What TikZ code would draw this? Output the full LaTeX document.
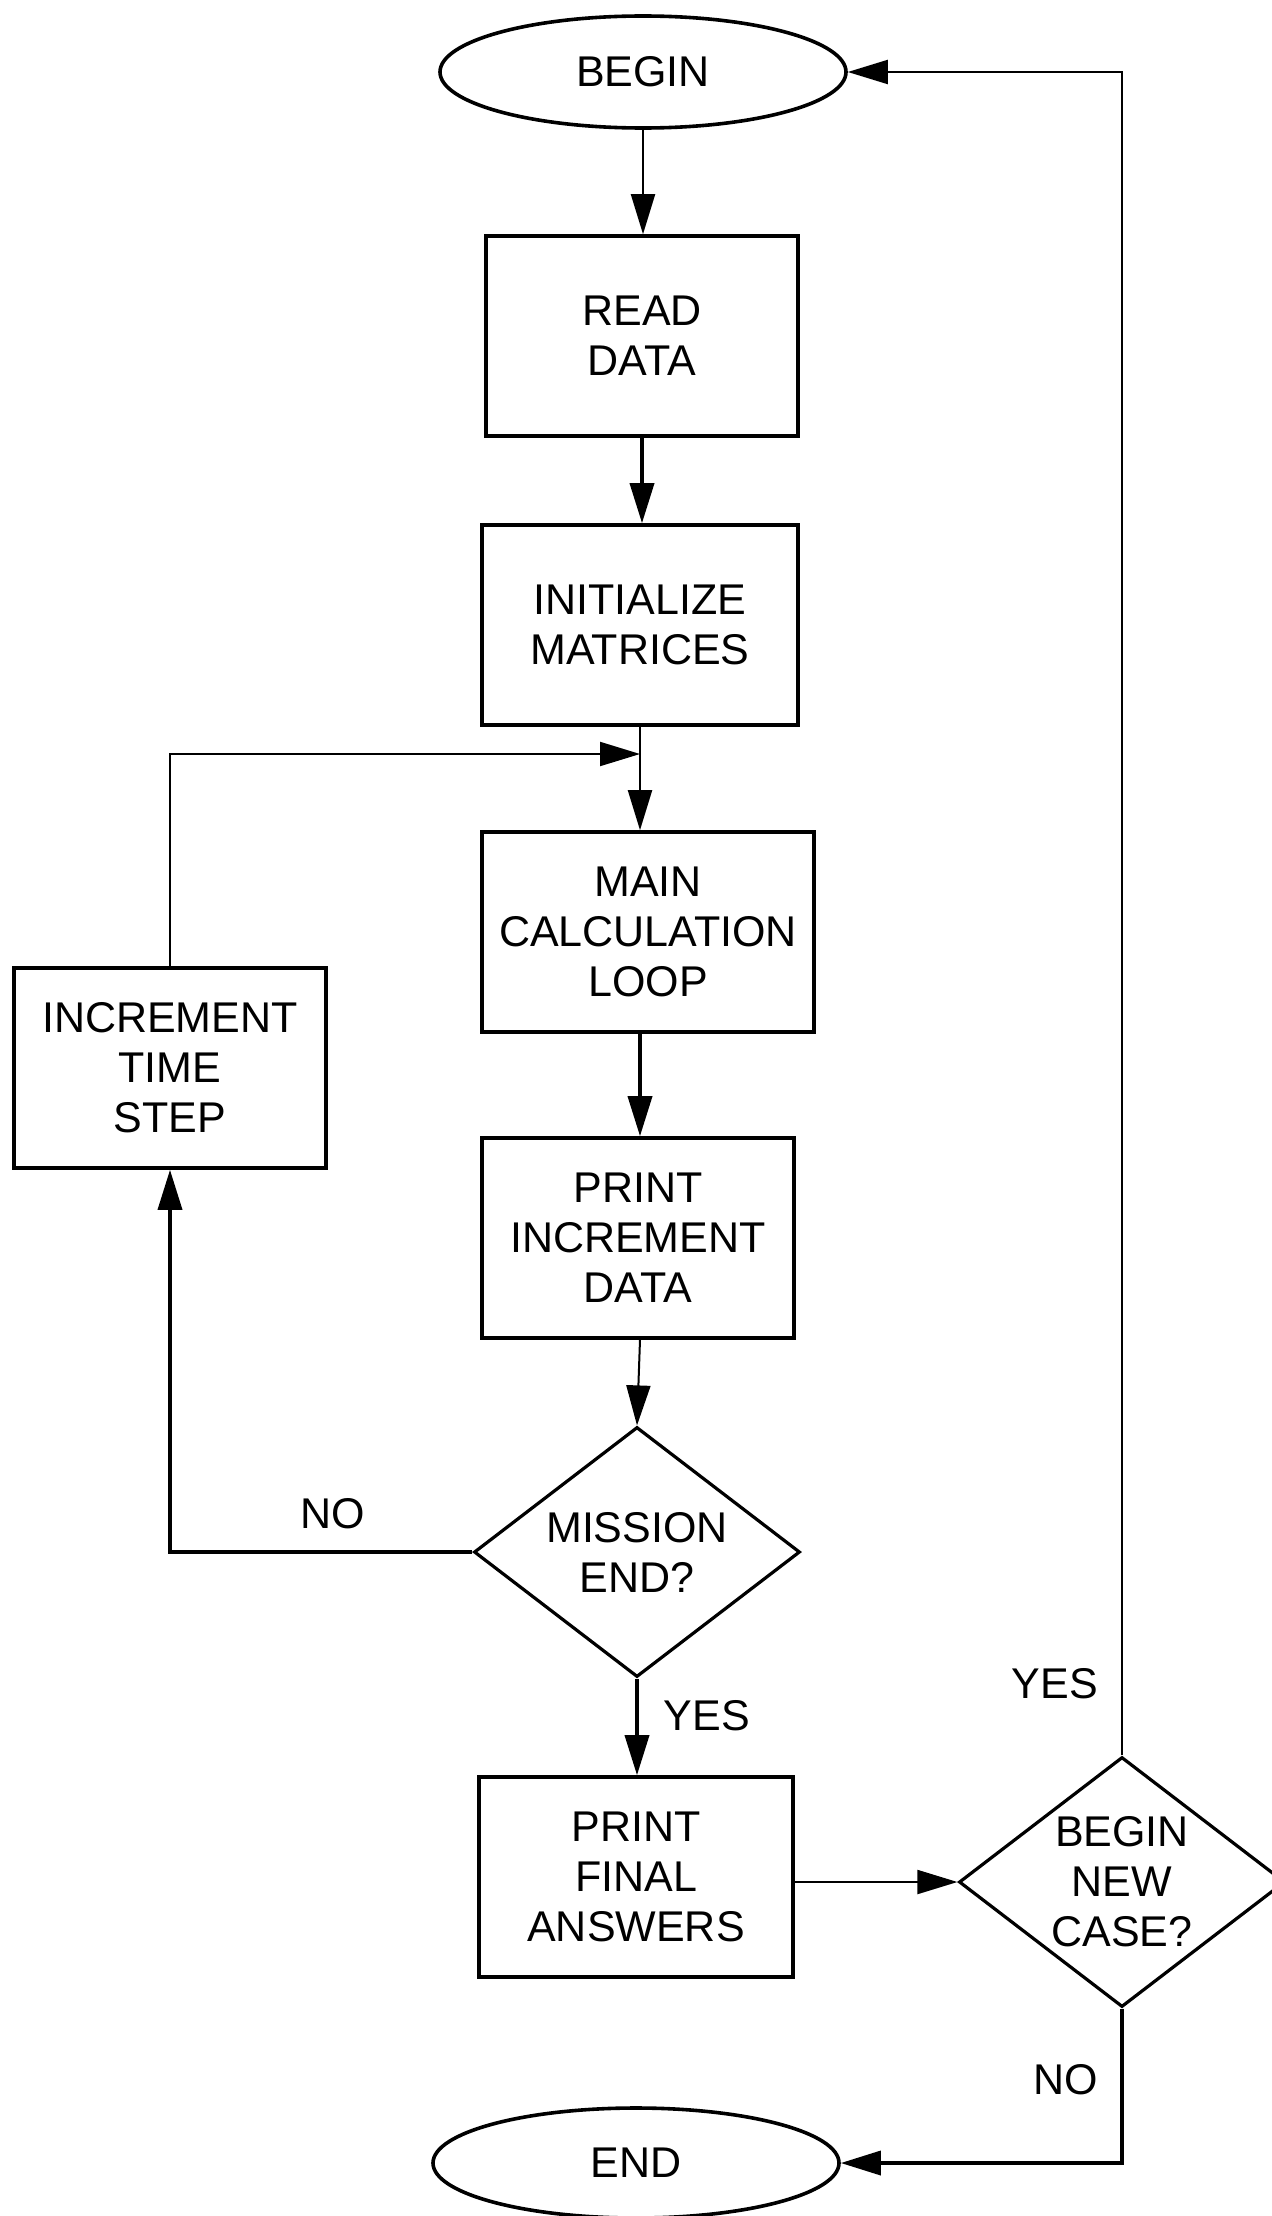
\documentclass[tikz,border=0pt]{standalone}
\usepackage{fontspec}
\setmainfont{Liberation Sans}
\usetikzlibrary{shapes.geometric,arrows.meta}
\begin{document}
\begin{tikzpicture}[x=0.5pt,y=-0.5pt,
  font=\fontsize{21.5}{25}\selectfont,
  stepbox/.style={draw, rectangle, line width=1.8pt, align=center, inner sep=0pt},
  terminal/.style={draw, ellipse, line width=1.8pt, inner sep=0pt,
    minimum width=203pt, minimum height=56pt},
  decision/.style={draw, diamond, line width=1.6pt, align=center, inner sep=-15pt,
    shape aspect=1.3, minimum width=163pt, minimum height=125pt},
  tip/.style={-{Triangle[length=20pt,width=12pt]}},
  flowthin/.style={tip, line width=1pt},
  flowthick/.style={tip, line width=1.8pt},
  lbl/.style={inner sep=0pt}
]
% page frame
\useasboundingbox (0,0) rectangle (1271,2216);

% process chain
\node[terminal] (begin) at (643,72) {BEGIN};
\node[stepbox, minimum width=156pt, minimum height=100pt] (read) at (642,336) {READ\\DATA};
\node[stepbox, minimum width=158pt, minimum height=100pt] (init) at (640,625) {INITIALIZE\\MATRICES};
\node[stepbox, minimum width=166pt, minimum height=100pt] (main) at (648,932) {MAIN\\CALCULATION\\LOOP};
\node[stepbox, minimum width=156pt, minimum height=100pt] (incr) at (170,1068) {INCREMENT\\TIME\\STEP};
\node[stepbox, minimum width=156pt, minimum height=100pt] (princ) at (638,1238) {PRINT\\INCREMENT\\DATA};
\node[decision] (mission) at (637,1552) {MISSION\\END?};
\node[stepbox, minimum width=157pt, minimum height=100pt] (final) at (636,1877) {PRINT\\FINAL\\ANSWERS};
\node[decision] (newcase) at (1122,1882) {BEGIN\\NEW\\CASE?};
\node[terminal, minimum height=55pt] (end) at (636,2163) {END};

% junction where the time-step loop rejoins
\coordinate (join) at (640,754);

% connectors
\draw[flowthin] (begin.south) -- (begin.south |- read.north);
\draw[flowthick] (read.south) -- (read.south |- init.north);
\draw[line width=1pt] (init.south) -- (join);
\draw[flowthin] (join) -- (join |- main.north);
\draw[flowthick] (join |- main.south) -- (join |- princ.north);
\draw[flowthin] (join |- princ.south) -- (mission.north);
\draw[flowthick] (mission.west) -- (mission.west -| incr.south) -- (incr.south);
\draw[flowthin] (incr.north) -- (incr.north |- join) -- (join);
\draw[flowthick] (mission.south) -- (mission.south |- final.north);
\draw[flowthin] (final.east |- newcase.west) -- (newcase.west);
\draw[flowthin] (newcase.north) -- (newcase.north |- begin.east) -- (begin.east);
\draw[flowthick] (newcase.south) -- (newcase.south |- end.east) -- (end.east);

% branch labels
\node[lbl] (noloop) at (333,1514) {NO};
\node[lbl] (yesfinal) at (707,1716) {YES};
\node[lbl] (yesagain) at (1055,1684) {YES};
\node[lbl] (nostop) at (1066,2080) {NO};
\end{tikzpicture}
\end{document}
